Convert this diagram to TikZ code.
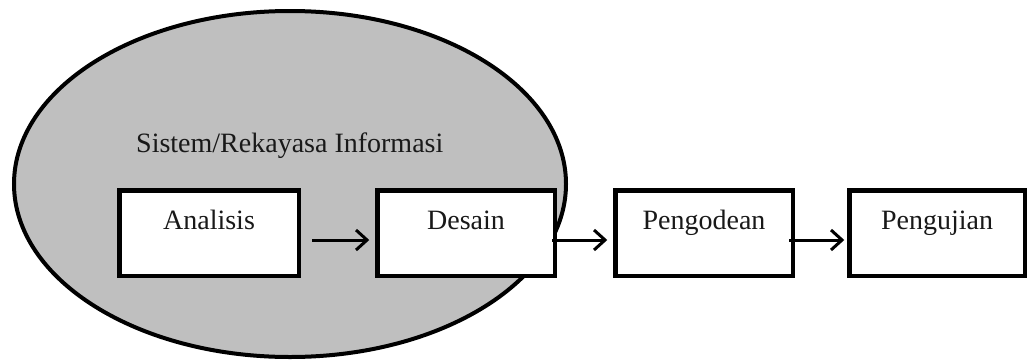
\documentclass[tikz,border=0pt]{standalone}
\usepackage{fontspec}
\setmainfont{Liberation Serif}
\usetikzlibrary{arrows.meta}
\definecolor{ellfill}{RGB}{191,191,191}
\begin{document}
\begin{tikzpicture}[x=1pt,y=-1pt,
  stage/.style={draw=black, line width=4.5pt, fill=white, rectangle, minimum height=85.5pt, outer sep=0pt, inner sep=0pt},
  lbl/.style={font=\fontsize{28}{34}\selectfont, inner sep=0pt, text=black!90},
  flow/.style={line width=3pt, -{Straight Barb[length=11pt,width=20pt]}}
]
\useasboundingbox (0,0) rectangle (1028,362);
\draw[line width=4pt, fill=ellfill] (290,184) ellipse [x radius=276, y radius=173];

\node[stage, minimum width=179.5pt] (a) at (209,233) {};
\node[stage, minimum width=177.5pt] (d) at (466,233) {};
\node[stage, minimum width=177.5pt] (p) at (704,233) {};
\node[stage, minimum width=175.5pt] (u) at (937,233) {};

\node[lbl, anchor=base west] (sri) at (136,152) {Sistem/Rekayasa Informasi};
\node[lbl, anchor=base] (ta) at ([yshift=-38.75pt]a.north) {Analisis};
\node[lbl, anchor=base] (td) at ([yshift=-38.75pt]d.north) {Desain};
\node[lbl, anchor=base] (tp) at ([yshift=-38.75pt]p.north) {Pengodean};
\node[lbl, anchor=base] (tu) at ([yshift=-38.75pt]u.north) {Pengujian};

\draw[flow] ([xshift=13.25pt,yshift=-7pt]a.east) -- ([xshift=-8pt,yshift=-7pt]d.west);
\draw[flow] ([xshift=-2.75pt,yshift=-7pt]d.east) -- ([xshift=-8pt,yshift=-7pt]p.west);
\draw[flow] ([xshift=-3.75pt,yshift=-7pt]p.east) -- ([xshift=-5pt,yshift=-7pt]u.west);
\end{tikzpicture}
\end{document}
